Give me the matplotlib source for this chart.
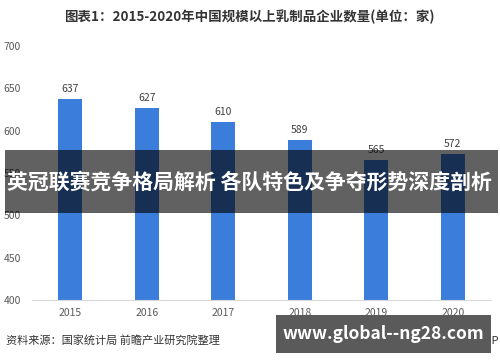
import matplotlib
matplotlib.use("Agg")
import matplotlib.pyplot as plt
from matplotlib.patches import Rectangle

plt.rcParams['font.family'] = ['Noto Sans CJK SC', 'DejaVu Sans']

years = ["2015", "2016", "2017", "2018", "2019", "2020"]
counts = [637, 627, 610, 589, 565, 572]
yticks = [400, 450, 500, 550, 600, 650, 700]

title = "图表1：2015-2020年中国规模以上乳制品企业数量(单位：家)"
source = "资料来源：国家统计局 前瞻产业研究院整理"
banner = "英冠联赛竞争格局解析 各队特色及争夺形势深度剖析"
site = "www.global--ng28.com"

fig = plt.figure(figsize=(5.0, 3.62), dpi=100)
ax = fig.add_axes([0.064, 0.171, 0.918, 0.702])

x = list(range(len(years)))
bars = ax.bar(x, counts, width=0.31, color="#3a7ddb", zorder=2)
for xi, v in zip(x, counts):
    ax.text(xi, v + 6, str(v), ha="center", va="bottom", fontsize=7.5, color="#404040")

ax.set_xlim(-0.5, 5.5)
ax.set_ylim(400, 700)
ax.set_xticks(x)
ax.set_xticklabels(years)
ax.set_yticks(yticks)
ax.tick_params(axis="both", length=0, labelsize=7.5, labelcolor="#595959")
ax.tick_params(axis="y", pad=8)
ax.tick_params(axis="x", pad=6)
for s in ["top", "right", "left"]:
    ax.spines[s].set_visible(False)
ax.spines["bottom"].set_color("#d9d9d9")
ax.spines["bottom"].set_linewidth(0.8)

fig.text(0.498, 0.953, title, ha="center", va="center", fontsize=9.7,
         fontweight="bold", color="#333333")
fig.text(0.012, 0.06, source, ha="left", va="center", fontsize=8, color="#333333")

# faint app label behind box
fig.text(0.998, 0.06, "前瞻经济学人APP", ha="right", va="center", fontsize=8, color="#333333")

# dark banner overlay
fig.patches.append(Rectangle((0.01, 1 - 213 / 362), 0.985, 63 / 362,
                             transform=fig.transFigure, facecolor="black",
                             alpha=0.62, edgecolor="none", zorder=5))
fig.text(0.498, 1 - 182 / 362, banner, ha="center", va="center", fontsize=15,
         fontweight="bold", color="white", zorder=6)

# bottom site box
fig.patches.append(Rectangle((276 / 500, 1 - 353 / 362), 215 / 500, 38 / 362,
                             transform=fig.transFigure, facecolor="#5a5a5a",
                             edgecolor="none", zorder=5))
fig.text(383 / 500, 1 - 334 / 362, site, ha="center", va="center", fontsize=12.5,
         fontweight="bold", color="white", zorder=6)

fig.savefig("out.png", dpi=100)
